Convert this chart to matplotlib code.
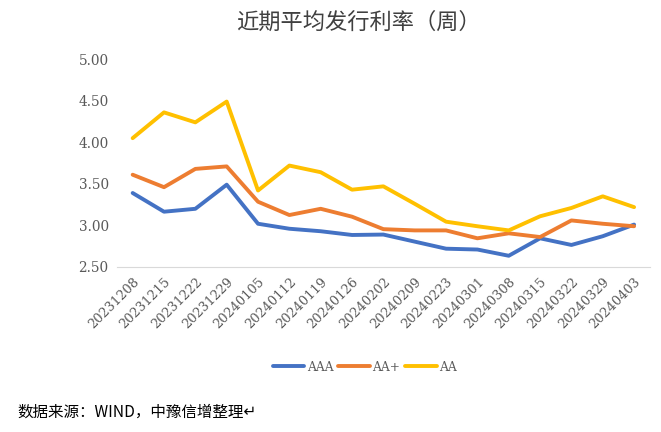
import matplotlib
matplotlib.use("Agg")
import matplotlib.pyplot as plt

plt.rcParams['font.family'] = ['Noto Sans CJK SC', 'DejaVu Sans']

# 数据
dates = ['20231208', '20231215', '20231222', '20231229', '20240105', '20240112',
         '20240119', '20240126', '20240202', '20240209', '20240223', '20240301',
         '20240308', '20240315', '20240322', '20240329', '20240403']
aaa = [3.39, 3.165, 3.20, 3.49, 3.02, 2.96, 2.93, 2.885, 2.89, 2.805, 2.72,
       2.71, 2.635, 2.845, 2.765, 2.87, 3.01]
aa_plus = [3.61, 3.46, 3.68, 3.71, 3.285, 3.125, 3.20, 3.105, 2.955, 2.94, 2.94,
           2.845, 2.905, 2.86, 3.06, 3.02, 2.99]
aa = [4.05, 4.36, 4.24, 4.49, 3.42, 3.72, 3.64, 3.43, 3.47, 3.26, 3.045,
      2.99, 2.94, 3.11, 3.21, 3.35, 3.22]
yticks = [2.5, 3.0, 3.5, 4.0, 4.5, 5.0]

fig = plt.figure(figsize=(6.61, 4.32), dpi=100)
ax = fig.add_axes([0.177, 0.382, 0.806, 0.481])

x = range(len(dates))
ax.plot(x, aaa, color='#4472C4', lw=2.8, label='AAA', solid_capstyle='round')
ax.plot(x, aa_plus, color='#ED7D31', lw=2.8, label='AA+', solid_capstyle='round')
ax.plot(x, aa, color='#FFC000', lw=2.8, label='AA', solid_capstyle='round')

ax.set_xlim(-0.5, len(dates) - 0.5)
ax.set_ylim(2.5, 5.0)
ax.set_yticks(yticks)
ax.set_yticklabels([f'{v:.2f}' for v in yticks], family='DejaVu Serif',
                   fontsize=9.8, color='#595959')
ax.set_xticks(list(x))
ax.set_xticklabels(dates, rotation=45, ha='right', rotation_mode='anchor',
                   family='DejaVu Serif', fontsize=9.3, color='#595959')
ax.tick_params(length=0, pad=6)
for s in ['top', 'right', 'left']:
    ax.spines[s].set_visible(False)
ax.spines['bottom'].set_color('#D9D9D9')

fig.text(0.543, 0.949, '近期平均发行利率（周）', ha='center', va='center',
         fontsize=16, color='#404040', weight='medium')
leg = fig.legend(loc='center', bbox_to_anchor=(0.552, 0.15), ncol=3, frameon=False,
                 handlelength=2.6, handletextpad=0.2, columnspacing=0.4,
                 prop={'family': 'DejaVu Serif', 'size': 8.8})
for t in leg.get_texts():
    t.set_color('#595959')
fig.text(0.027, 0.046, '数据来源：WIND，中豫信增整理↵', ha='left', va='center',
         fontsize=11.2, color='#000000')

fig.savefig('out.png', dpi=100)
